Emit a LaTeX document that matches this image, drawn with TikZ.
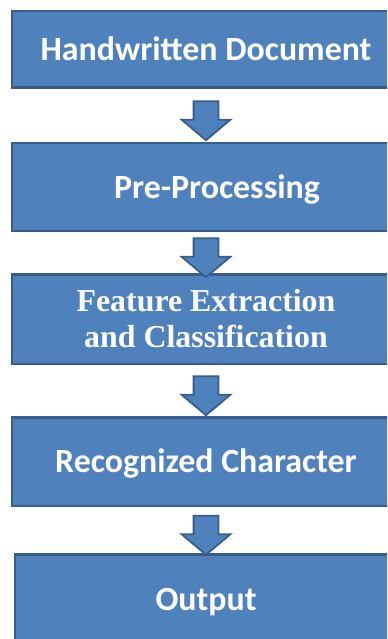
\documentclass[tikz,border=0pt]{standalone}
\usepackage{fontspec}
\setmainfont{Carlito}
\newfontfamily\stageserif{Liberation Serif}
\usetikzlibrary{shapes.arrows,calc}
\definecolor{boxfill}{HTML}{4F81BD}
\definecolor{boxline}{HTML}{385D8A}
\tikzset{
  stage/.style={draw=boxline, fill=boxfill, line width=2.5bp, text=white,
    inner sep=0pt, align=center, minimum width=388bp},
  sanslabel/.style={font=\fontsize{34}{40}\selectfont\bfseries,
    text height=22bp, text depth=0bp},
  seriflabel/.style={font=\stageserif\fontsize{32}{36}\selectfont\bfseries},
  flowarrow/.style={single arrow, shape border rotate=270, draw=boxline,
    fill=boxfill, line width=1.8bp, inner sep=11.5bp, minimum width=47bp,
    minimum height=39bp, single arrow head extend=12bp,
    single arrow tip angle=100}
}
\begin{document}
\begin{tikzpicture}[x=1bp,y=-1bp]
  \useasboundingbox (0,0) rectangle (387,639);
  \clip (0,0) rectangle (387,639);
  % process stages
  \node[stage, sanslabel, minimum height=76.5bp] (b1) at (206,49.5) {Handwritten Document};
  \node[stage, sanslabel, minimum height=87.5bp] (b2) at (206,187) {\hspace*{22bp}Pre-Processing};
  \node[stage, seriflabel, minimum height=89.5bp] (b3) at (206,319) {Feature Extraction\\and Classification};
  \node[stage, sanslabel, minimum height=88.5bp] (b4) at (206,461.5) {Recognized Character};
  \node[stage, sanslabel, minimum height=89.5bp, minimum width=382bp] (b5) at (206,599) {Output};
  % block arrows between stages
  \node[flowarrow] (a1) at ($(b1.south)!0.5!(b2.north)$) {};
  \node[flowarrow] (a2) at ($(b2.south)!0.5!(b3.north)$) {};
  \node[flowarrow] (a3) at ($(b3.south)!0.5!(b4.north)$) {};
  \node[flowarrow] (a4) at ($(b4.south)!0.5!(b5.north)$) {};
\end{tikzpicture}
\end{document}
